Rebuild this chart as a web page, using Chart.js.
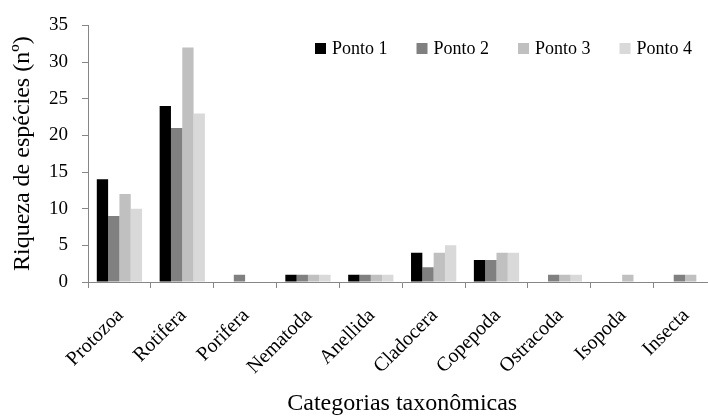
<!DOCTYPE html>
<html>
<head>
<meta charset="utf-8">
<script src="https://cdn.jsdelivr.net/npm/chart.js@4/dist/chart.umd.min.js"></script>
<style>
    html, body { margin: 0; padding: 0; background: #fff; overflow: hidden; }
    #wrap { width: 708px; height: 416px; overflow: hidden; }
</style>
</head>
<body>
<div id="wrap"><canvas id="riqueza-chart" width="718" height="416"></canvas></div>
<script>
// Richness of species per taxonomic group, for each sampling point
const categories = ['Protozoa', 'Rotifera', 'Porifera', 'Nematoda', 'Anellida',
    'Cladocera', 'Copepoda', 'Ostracoda', 'Isopoda', 'Insecta'];
const ponto1 = [14, 24, 0, 1, 1, 4, 3, 0, 0, 0];
const ponto2 = [9, 21, 1, 1, 1, 2, 3, 1, 0, 1];
const ponto3 = [12, 32, 0, 1, 1, 4, 4, 1, 1, 1];
const ponto4 = [10, 23, 0, 1, 1, 5, 4, 1, 0, 0];
const seriesNames = ['Ponto 1', 'Ponto 2', 'Ponto 3', 'Ponto 4'];
const seriesColors = ['#000000', '#808080', '#c0c0c0', '#d9d9d9'];
const yTicks = [0, 5, 10, 15, 20, 25, 30, 35];

const serif = '"Liberation Serif", "Times New Roman", serif';
const axisGray = '#868686';

/**
 * Legend drawn inside the plot area, on one row, like the original figure
 */
const innerLegend = {
    id: 'innerLegend',
    afterDraw(chart) {
        const ctx = chart.ctx;
        let x = 315;
        const y = 48;
        ctx.save();
        ctx.font = '18px ' + serif;
        ctx.textBaseline = 'middle';
        ctx.textAlign = 'left';
        chart.data.datasets.forEach(ds => {
            ctx.fillStyle = ds.backgroundColor;
            ctx.fillRect(x, y - 5, 11, 11);
            ctx.fillStyle = '#000';
            ctx.fillText(ds.label, x + 17, y + 1);
            x += 17 + ctx.measureText(ds.label).width + 29;
        });
        ctx.restore();
    }
};

const allSeries = [ponto1, ponto2, ponto3, ponto4];

new Chart(document.getElementById('riqueza-chart'), {
    type: 'bar',
    data: {
        labels: categories,
        datasets: allSeries.map((values, i) => ({
            label: seriesNames[i],
            data: values,
            backgroundColor: seriesColors[i],
            borderWidth: 0,
            categoryPercentage: 0.72,
            barPercentage: 1.0
        }))
    },
    options: {
        responsive: false,
        animation: false,
        layout: { padding: { top: 21, right: 0, bottom: 0, left: 0 } },
        plugins: {
            legend: { display: false },
            tooltip: { enabled: false }
        },
        scales: {
            x: {
                grid: {
                    display: true,
                    drawOnChartArea: false,
                    drawTicks: true,
                    tickLength: 6,
                    color: axisGray,
                    offset: true
                },
                border: { color: axisGray, width: 1 },
                ticks: {
                    color: '#000',
                    font: { family: serif, size: 20 },
                    minRotation: 45,
                    maxRotation: 45,
                    padding: 16,
                    labelOffset: 1,
                    autoSkip: false
                },
                title: {
                    display: true,
                    text: 'Categorias taxonômicas',
                    color: '#000',
                    font: { family: serif, size: 24, lineHeight: 1 },
                    padding: { top: 0, bottom: 0 }
                },
                afterFit(scale) { scale.height = 134; }
            },
            y: {
                min: 0,
                max: 35,
                afterBuildTicks(scale) { scale.ticks = yTicks.map(v => ({ value: v })); },
                grid: {
                    display: true,
                    drawOnChartArea: false,
                    drawTicks: true,
                    tickLength: 6,
                    color: axisGray
                },
                border: { color: axisGray, width: 1 },
                ticks: {
                    color: '#000',
                    font: { family: serif, size: 19 },
                    padding: 14
                },
                title: {
                    display: true,
                    text: 'Riqueza de espécies (nº)',
                    color: '#000',
                    font: { family: serif, size: 24 },
                    padding: { top: 8, bottom: 0 }
                },
                afterFit(scale) { scale.width = 88; }
            }
        }
    },
    plugins: [innerLegend]
});
</script>
</body>
</html>
